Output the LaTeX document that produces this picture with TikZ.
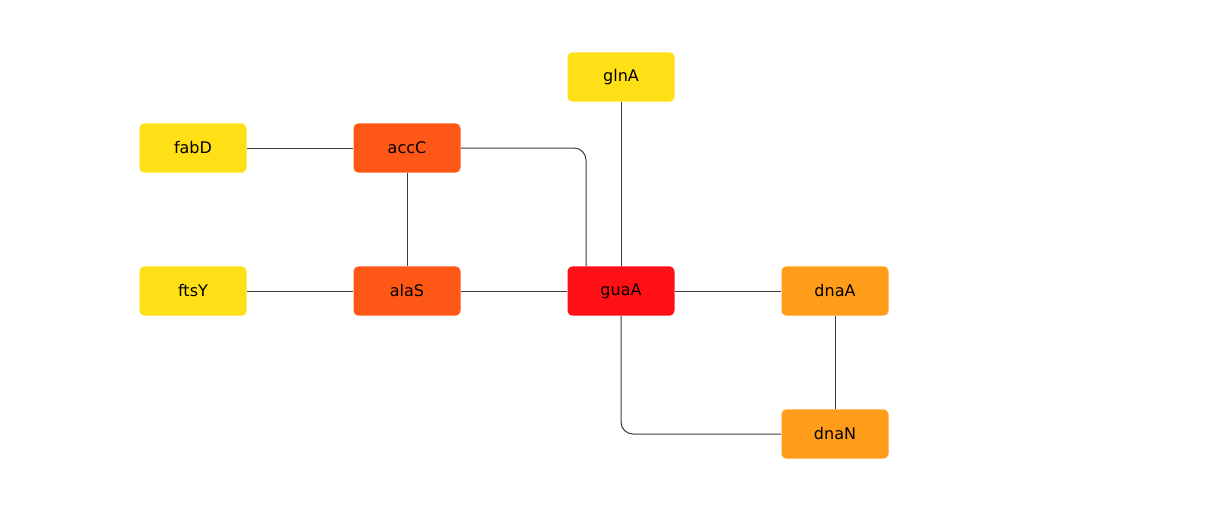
\documentclass[tikz,border=0pt]{standalone}
\usepackage{fontspec}
\setmainfont{DejaVu Sans}
\usepackage{tikz}
\usetikzlibrary{calc,positioning}
\definecolor{geneyellow}{RGB}{255,223,21}
\definecolor{geneorange}{RGB}{255,156,25}
\definecolor{genered}{RGB}{255,87,22}
\definecolor{genehub}{RGB}{255,16,22}
\definecolor{linkgray}{RGB}{60,60,60}
\tikzset{
  gene/.style={rounded corners=3.75pt, minimum width=80.25pt, minimum height=37.1pt, inner sep=0pt, font=\fontsize{12}{14}\selectfont},
  link/.style={draw=linkgray, line width=0.75pt, rounded corners=9pt}
}

\begin{document}
\begin{tikzpicture}[x=0.75pt,y=-0.75pt]
\useasboundingbox (0,0) rectangle (1222,512);
\node[gene,fill=geneyellow] (fabD) at (193,148) {fabD};
\node[gene,fill=genered] (accC) at (407,148) {accC};
\node[gene,fill=geneyellow] (glnA) at (621,77) {glnA};
\node[gene,fill=geneyellow] (ftsY) at (193,291) {ftsY};
\node[gene,fill=genered] (alaS) at (407,291) {alaS};
\node[gene,fill=genehub] (guaA) at (621,291) {guaA};
\node[gene,fill=geneorange] (dnaA) at (835,291) {dnaA};
\node[gene,fill=geneorange] (dnaN) at (835,434) {dnaN};
\draw[link] (fabD) -- (accC);
\draw[link] (accC) -- (alaS);
\draw[link] (ftsY) -- (alaS);
\draw[link] (alaS) -- (guaA);
\draw[link] (accC.east) -| ([xshift=-26.25pt]guaA.north);
\draw[link] (glnA) -- (guaA);
\draw[link] (guaA) -- (dnaA);
\draw[link] (dnaA) -- (dnaN);
\draw[link] (guaA.south) |- (dnaN.west);
\end{tikzpicture}
\end{document}
